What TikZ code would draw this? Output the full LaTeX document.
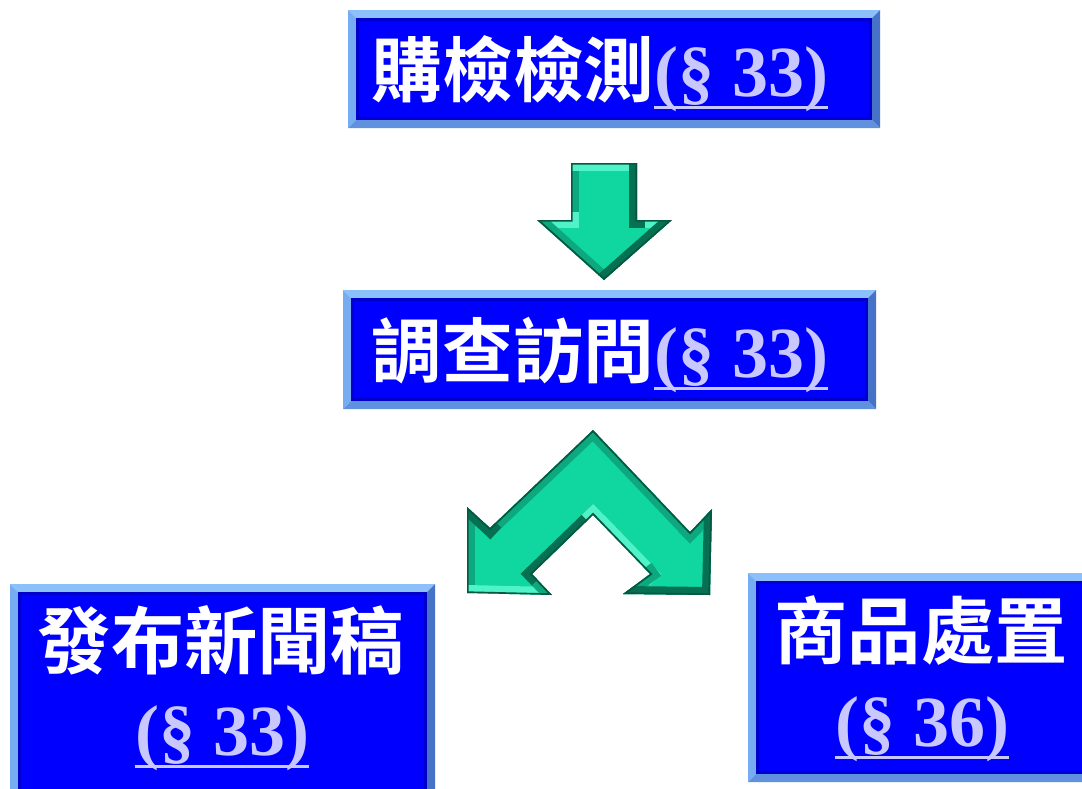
\documentclass[tikz,border=0pt]{standalone}
\usepackage{fontspec}
\newfontfamily\cjk{Noto Sans CJK TC}[BoldFont={Noto Sans CJK TC Bold}]
\newfontfamily\serif{Liberation Serif}

\definecolor{panelblue}{RGB}{0,0,255}
\definecolor{paneldeep}{RGB}{0,0,205}
\definecolor{rimtop}{RGB}{140,192,250}
\definecolor{rimleft}{RGB}{118,172,242}
\definecolor{rimbottom}{RGB}{95,145,222}
\definecolor{rimright}{RGB}{70,115,200}
\definecolor{lav}{RGB}{200,200,255}
\definecolor{arrowface}{RGB}{16,214,160}
\definecolor{bevlight}{RGB}{80,242,200}
\definecolor{bevmid}{RGB}{14,168,126}
\definecolor{bevdark}{RGB}{6,112,82}
\definecolor{arrowdark}{RGB}{5,88,66}

\tikzset{every picture/.style={line width=0.75pt}}
\tikzset{cjktext/.style={text=white, inner sep=0pt, anchor=base, font=\cjk\bfseries\fontsize{53}{60}\selectfont}}
\tikzset{bigcjk/.style={cjktext, font=\cjk\bfseries\fontsize{55}{60}\selectfont}}
\tikzset{facet/.style={line width=12pt, line cap=rect}}

% underlined section number
\newcommand{\secref}[1]{\setbox0=\hbox{\serif\bfseries\fontsize{54}{60}\selectfont\color{lav}(§ #1)}\rlap{\copy0}\textcolor{lav}{\rule[-10pt]{\wd0}{2.4pt}}}

% bevelled blue panel: left, top, right, bottom
\newcommand{\bevelpanel}[4]{%
\fill[rimtop] (#1,#2) -- (#3,#2) -- ({#3-8},{#2+8}) -- ({#1+8},{#2+8}) -- cycle;
\fill[rimleft] (#1,#2) -- ({#1+8},{#2+8}) -- ({#1+8},{#4-8}) -- (#1,#4) -- cycle;
\fill[rimbottom] (#1,#4) -- ({#1+8},{#4-8}) -- ({#3-8},{#4-8}) -- (#3,#4) -- cycle;
\fill[rimright] (#3,#2) -- (#3,#4) -- ({#3-8},{#4-8}) -- ({#3-8},{#2+8}) -- cycle;
\fill[paneldeep] ({#1+8},{#2+8}) rectangle ({#3-8},{#4-8});
\fill[panelblue] ({#1+11},{#2+11}) rectangle ({#3-11},{#4-11});
}

\begin{document}
\begin{tikzpicture}[x=0.75pt,y=0.75pt,yscale=-1,xscale=1]
\useasboundingbox (0,0) rectangle (1082,789);

%Shape: Panels
\bevelpanel{348}{10}{880}{128}
\bevelpanel{343}{290}{876}{409}
\bevelpanel{10}{584}{435}{805}
\bevelpanel{748}{573}{1095}{782}

%Shape: Down Arrow
\begin{scope}
\clip (571,163) -- (637,163) -- (637,220) -- (672,220) -- (604,280) -- (537,220) -- (571,220) -- cycle;
\fill[arrowface] (520,150) rectangle (690,290);
\draw[facet, bevmid] (571,220) -- (571,163);
\draw[facet, bevlight] (571,163) -- (637,163);
\draw[facet, bevlight] (537,220) -- (571,220);
\draw[facet, bevlight] (637,220) -- (672,220);
\draw[facet, bevmid] (604,280) -- (537,220);
\draw[facet, bevdark] (637,163) -- (637,220);
\draw[facet, bevdark] (672,220) -- (604,280);
\draw[arrowdark, line width=2.5pt] (571,163) -- (637,163) -- (637,220) -- (672,220) -- (604,280) -- (537,220) -- (571,220) -- cycle;
\end{scope}

%Shape: Split Arrow
\begin{scope}
\clip (593,430) -- (690,532) -- (712,509) -- (710,595) -- (623,594) -- (650,574) -- (593,515) -- (532,574) -- (552,595) -- (467,593) -- (467,507) -- (490,528) -- cycle;
\fill[arrowface] (460,420) rectangle (720,600);
\draw[facet, bevmid] (490,528) -- (593,430);
\draw[facet, bevmid] (593,430) -- (690,532);
\draw[facet, bevmid] (690,532) -- (712,509);
\draw[facet, bevmid] (467,593) -- (467,507);
\draw[facet, bevdark] (467,507) -- (490,528);
\draw[facet, bevlight] (552,595) -- (467,593);
\draw[facet, bevmid] (532,574) -- (552,595);
\draw[facet, bevdark] (593,515) -- (532,574);
\draw[facet, bevlight] (650,574) -- (593,515);
\draw[facet, bevmid] (623,594) -- (650,574);
\draw[facet, bevdark] (710,595) -- (623,594);
\draw[facet, bevdark] (712,509) -- (710,595);
\draw[arrowdark, line width=2.5pt] (593,430) -- (690,532) -- (712,509) -- (710,595) -- (623,594) -- (650,574) -- (593,515) -- (532,574) -- (552,595) -- (467,593) -- (467,507) -- (490,528) -- cycle;
\end{scope}

% Text Node
\draw (600,96) node[cjktext] (buytest) {購檢檢測\secref{33}};
% Text Node
\draw (600,377) node[cjktext] (visit) {調查訪問\secref{33}};
% Text Node
\draw (221,668) node[bigcjk] (press) {發布新聞稿};
\draw (222,755) node[cjktext] (pressref) {\secref{33}};
% Text Node
\draw (921,658) node[bigcjk] (goods) {商品處置};
\draw (922,746) node[cjktext] (goodsref) {\secref{36}};

\end{tikzpicture}
\end{document}
